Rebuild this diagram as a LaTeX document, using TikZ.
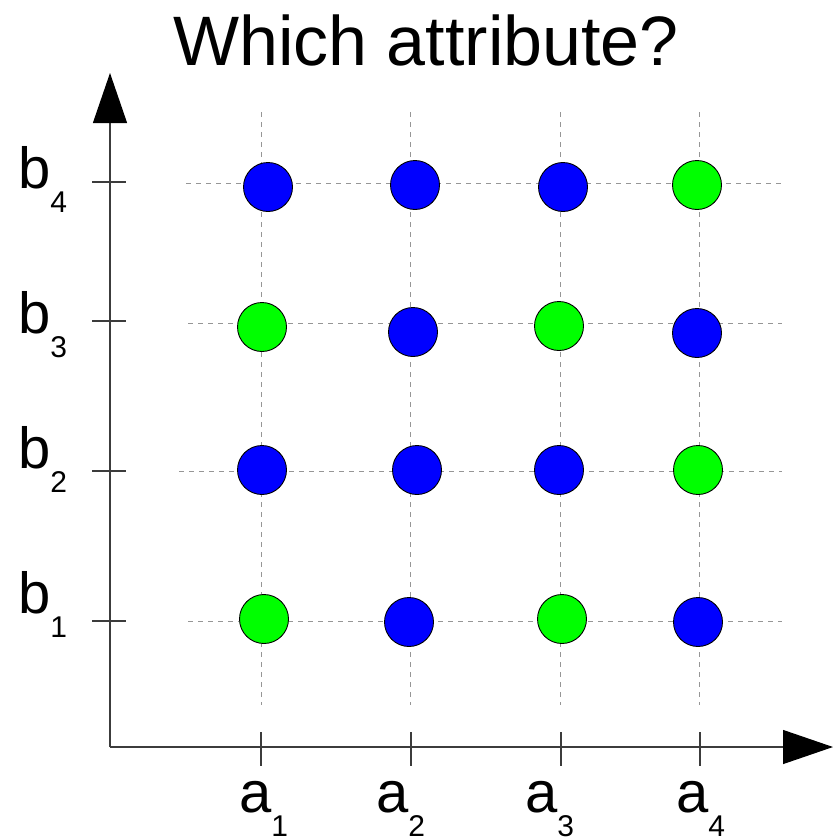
\documentclass[tikz,border=0pt]{standalone}
\usepackage{fontspec}
\setmainfont{Liberation Sans}
\usetikzlibrary{arrows.meta}

\definecolor{dotblue}{RGB}{0,0,255}
\definecolor{dotgreen}{RGB}{0,255,0}
\definecolor{gridgray}{RGB}{150,150,150}
\definecolor{axisgray}{RGB}{60,60,60}

% label with a lowered index
\newcommand{\axlabel}[2]{#1\raisebox{-24pt}{\fontsize{30}{30}\selectfont #2}}

\begin{document}
\begin{tikzpicture}[x=1pt, y=-1pt,
    gridline/.style={gridgray, line width=1pt, dash pattern=on 5pt off 5pt},
    axisline/.style={axisgray, line width=1.2pt},
    axisarrow/.style={axisline, -{Triangle[length=50pt, width=34pt, color=black]}},
    dot/.style={circle, draw=black, line width=0.9pt, minimum size=49pt, inner sep=0pt},
    bluedot/.style={dot, fill=dotblue},
    greendot/.style={dot, fill=dotgreen},
    axlbl/.style={anchor=base west, inner sep=0pt, font=\fontsize{58}{58}\selectfont}]
        \useasboundingbox (0,0) rectangle (833,838);

        % --- Title ---
        \node[anchor=base, inner sep=0pt, font=\fontsize{70}{70}\selectfont] (title) at (426,65) {Which attribute?};

        % --- Dashed grid (vertical) ---
        \draw[gridline] (261,112) -- (261,705);
        \draw[gridline] (410,112) -- (410,705);
        \draw[gridline] (560,112) -- (560,705);
        \draw[gridline] (699,112) -- (699,705);

        % --- Dashed grid (horizontal) ---
        \draw[gridline] (186,183) -- (782,183);
        \draw[gridline] (188,323) -- (782,323);
        \draw[gridline] (179,471) -- (782,471);
        \draw[gridline] (188,621) -- (782,621);

        % --- Row b4 ---
        \node[bluedot]  (c14) at (268,187) {};
        \node[bluedot]  (c24) at (415,185) {};
        \node[bluedot]  (c34) at (563,187) {};
        \node[greendot] (c44) at (697,185) {};

        % --- Row b3 ---
        \node[greendot] (c13) at (262,327) {};
        \node[bluedot]  (c23) at (413,332) {};
        \node[greendot] (c33) at (559,326) {};
        \node[bluedot]  (c43) at (697,333) {};

        % --- Row b2 ---
        \node[bluedot]  (c12) at (262,470) {};
        \node[bluedot]  (c22) at (417,470) {};
        \node[bluedot]  (c32) at (559,470) {};
        \node[greendot] (c42) at (698,470) {};

        % --- Row b1 ---
        \node[greendot] (c11) at (264,619) {};
        \node[bluedot]  (c21) at (409,622) {};
        \node[greendot] (c31) at (562,619) {};
        \node[bluedot]  (c41) at (698,622) {};

        % --- Axes ---
        \coordinate (origin) at (110,747);
        \coordinate (ytop)   at (110,73);
        \coordinate (xend)   at (833,747);
        \draw[axisarrow] (origin) -- (ytop);
        \draw[axisarrow] (origin) -- (xend);

        % --- Ticks on the a axis ---
        \draw[axisline] (261,732) -- (261,766);
        \draw[axisline] (411,732) -- (411,766);
        \draw[axisline] (561,732) -- (561,766);
        \draw[axisline] (700,732) -- (700,766);

        % --- Ticks on the b axis ---
        \draw[axisline] (92,182) -- (126,182);
        \draw[axisline] (92,321) -- (126,321);
        \draw[axisline] (92,471) -- (126,471);
        \draw[axisline] (92,621) -- (126,621);

        % --- Axis labels ---
        \node[axlbl] (la1) at (239,812) {\axlabel{a}{1}};
        \node[axlbl] (la2) at (376,812) {\axlabel{a}{2}};
        \node[axlbl] (la3) at (525,812) {\axlabel{a}{3}};
        \node[axlbl] (la4) at (676,812) {\axlabel{a}{4}};

        \node[axlbl] (lb4) at (18,188) {\axlabel{b}{4}};
        \node[axlbl] (lb3) at (18,333) {\axlabel{b}{3}};
        \node[axlbl] (lb2) at (18,468) {\axlabel{b}{2}};
        \node[axlbl] (lb1) at (18,613) {\axlabel{b}{1}};
    \end{tikzpicture}
\end{document}
